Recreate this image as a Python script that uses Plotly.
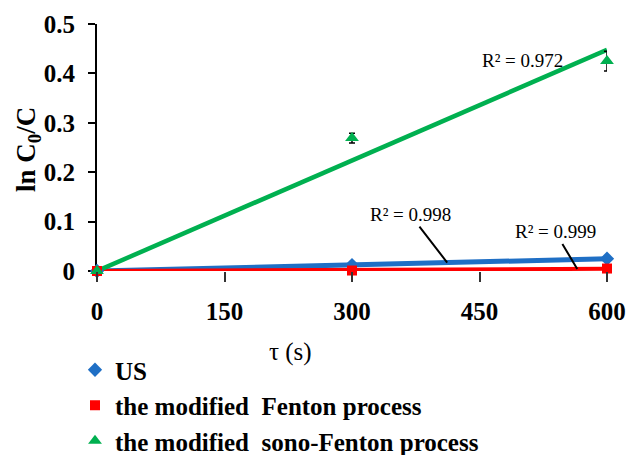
import numpy as np
import plotly.graph_objects as go

# Reaction time (s) and ln(C0/C) for each process
time_s = [0, 300, 600]
us_vals = [0.0, 0.012, 0.025]
fenton_vals = [0.0, 0.001, 0.005]
sono_fenton_vals = [0.0, 0.269, 0.425]
sono_fenton_err = [0.0, 0.010, 0.020]

series_names = ["US", "the modified  Fenton process", "the modified  sono-Fenton process"]
r2_labels = ["R² = 0.998", "R² = 0.999", "R² = 0.972"]

x_ticks = [0, 150, 300, 450, 600]
y_ticks = [0, 0.1, 0.2, 0.3, 0.4, 0.5]

BLUE = "#1F6FC5"
RED = "#FF0000"
GREEN = "#00B050"
SERIF = "Liberation Serif, Times New Roman, serif"

# plot area in pixels
L, R, T, B = 97, 24, 24, 184
W, H = 631, 455
PW, PH = W - L - R, H - T - B


def px_to_paper(px, py):
    return (px - L) / PW, (H - B - py) / PH


def origin_fit(x, y):
    """Least-squares slope of a line forced through the origin."""
    x = np.asarray(x, float)
    y = np.asarray(y, float)
    return float((x * y).sum() / (x * x).sum())


fig = go.Figure()

fits = {}
for name, vals, color, width in [
    ("us", us_vals, BLUE, 5),
    ("fenton", fenton_vals, RED, 4),
    ("sono", sono_fenton_vals, GREEN, 4.5),
]:
    k = origin_fit(time_s, vals)
    fits[name] = k
    xs = [time_s[0], time_s[-1]]
    fig.add_trace(go.Scatter(
        x=xs, y=[k * v for v in xs], mode="lines",
        line=dict(color=color, width=width), showlegend=False,
        hoverinfo="skip", cliponaxis=False,
    ))

fig.add_trace(go.Scatter(
    x=time_s, y=us_vals, mode="markers", name=series_names[0],
    marker=dict(symbol="diamond", color=BLUE, size=11), cliponaxis=False,
))
fig.add_trace(go.Scatter(
    x=time_s, y=fenton_vals, mode="markers", name=series_names[1],
    marker=dict(symbol="square", color=RED, size=10), cliponaxis=False,
))
fig.add_trace(go.Scatter(
    x=time_s, y=sono_fenton_vals, mode="markers", name=series_names[2],
    marker=dict(symbol="triangle-up", color=GREEN, size=12), cliponaxis=False,
    error_y=dict(type="data", array=sono_fenton_err, visible=True,
                 color="black", thickness=1.5, width=3),
))

ann_font = dict(family=SERIF, size=19, color="black")
x_us, x_fen = 412, 565
fig.add_annotation(x=x_us, y=fits["us"] * x_us, text=r2_labels[0],
                   showarrow=True, arrowhead=0, arrowwidth=2, arrowcolor="black",
                   ax=-37, ay=-48, font=ann_font)
fig.add_annotation(x=x_fen, y=fits["fenton"] * x_fen, text=r2_labels[1],
                   showarrow=True, arrowhead=0, arrowwidth=2, arrowcolor="black",
                   ax=-22, ay=-37, font=ann_font)
fig.add_annotation(x=500, y=0.427, text=r2_labels[2], showarrow=False, font=ann_font)

# Axis titles
tx, ty = px_to_paper(290, 352)
fig.add_annotation(xref="paper", yref="paper", x=tx, y=ty, xanchor="center", yanchor="middle",
                   text="τ (s)", showarrow=False,
                   font=dict(family=SERIF, size=25, color="black"))
yx, yy = px_to_paper(28, 150)
fig.add_annotation(xref="paper", yref="paper", x=yx, y=yy, xanchor="center", yanchor="middle",
                   text="<b>ln C<sub>0</sub>/C</b>", textangle=-90, showarrow=False,
                   font=dict(family=SERIF, size=27, color="black"))

fig.update_xaxes(
    range=[0, 600], tickvals=x_ticks, ticktext=[str(v) for v in x_ticks],
    showline=False, showgrid=False, zeroline=False,
    ticks="outside", ticklen=10, tickwidth=1.5, tickcolor="#333",
    ticklabelstandoff=8,
    tickfont=dict(family=SERIF, size=25, color="black", weight="bold"),
)
fig.update_yaxes(
    range=[0, 0.5], tickvals=y_ticks, ticktext=["0", "0.1", "0.2", "0.3", "0.4", "0.5"],
    showline=True, linecolor="black", linewidth=2, layer="below traces",
    showgrid=False, zeroline=False,
    ticks="outside", ticklen=7, tickwidth=2, tickcolor="black",
    ticklabelstandoff=8,
    tickfont=dict(family=SERIF, size=25, color="black", weight="bold"),
)

lx, ly = px_to_paper(75, 347)
fig.update_layout(
    width=W, height=H,
    margin=dict(l=L, r=R, t=T, b=B, autoexpand=False),
    plot_bgcolor="white", paper_bgcolor="white",
    showlegend=True,
    legend=dict(
        x=lx, y=ly, xanchor="left", yanchor="top",
        font=dict(family=SERIF, size=25, color="black", weight="bold"),
        bgcolor="rgba(0,0,0,0)", itemwidth=30,
    ),
)

fig.write_html("out.html")
